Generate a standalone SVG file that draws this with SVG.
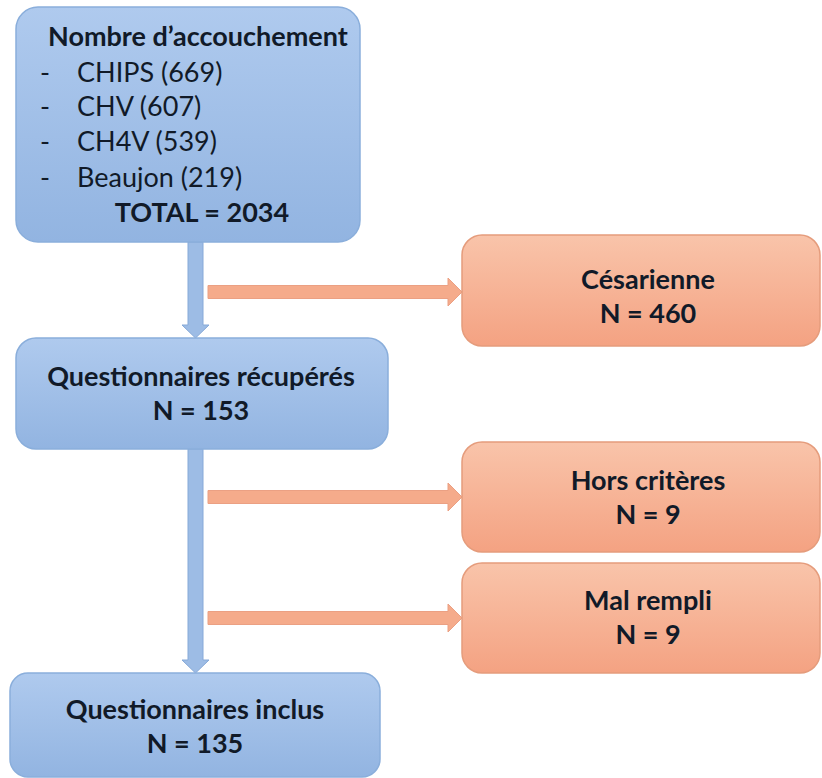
<svg xmlns="http://www.w3.org/2000/svg" width="822" height="778" viewBox="0 0 822 778">
<defs>
<linearGradient id="gBlue" x1="0" y1="0" x2="0" y2="1">
<stop offset="0" stop-color="#afcaee"/>
<stop offset="1" stop-color="#92b4e1"/>
</linearGradient>
<linearGradient id="gOrange" x1="0" y1="0" x2="0" y2="1">
<stop offset="0" stop-color="#f9c4aa"/>
<stop offset="1" stop-color="#f4a282"/>
</linearGradient>
<style>
.bbox{fill:url(#gBlue);stroke:#8aaedb;stroke-width:1.5}
.obox{fill:url(#gOrange);stroke:#e59c7c;stroke-width:1.5}
.barrow{fill:#9dbce5;stroke:#86a9d8;stroke-width:1}
.oarrow{fill:#f5ab8b;stroke:#eba083;stroke-width:1}
text{font-family:Lato,"Open Sans","Liberation Sans",sans-serif;font-size:27px;fill:#111a28}
.b{font-weight:bold}
.c{text-anchor:middle}
</style>
</defs>
<rect width="822" height="778" fill="#ffffff"/>
<g id="connectors">
<path class="barrow" d="M188,242 V325 H182 L195.5,338 L209,325 H203 V242 Z"/>
<path class="barrow" d="M188,449 V660 H182 L195.5,673 L209,660 H203 V449 Z"/>
<path class="oarrow" d="M208,285.5 H448 V278 L462,292 L448,306 V298.5 H208 Z"/>
<path class="oarrow" d="M208,490.5 H448 V483 L462,497 L448,511 V503.5 H208 Z"/>
<path class="oarrow" d="M208,611.5 H448 V604 L462,618 L448,632 V624.5 H208 Z"/>
</g>
<g id="node-accouchement">
<rect class="bbox" x="16" y="7" width="344" height="235" rx="22"/>
<text class="b" x="48" y="46">Nombre d’accouchement</text>
<text x="40" y="82">-</text><text x="77" y="82">CHIPS (669)</text>
<text x="40" y="116">-</text><text x="77" y="116">CHV (607)</text>
<text x="40" y="151">-</text><text x="77" y="151">CH4V (539)</text>
<text x="40" y="187">-</text><text x="77" y="187">Beaujon (219)</text>
<text class="b c" x="202" y="222">TOTAL = 2034</text>
</g>
<g id="node-recuperes">
<rect class="bbox" x="16" y="338" width="372" height="111" rx="20"/>
<text class="b c" x="201" y="386">Questionnaires récupérés</text>
<text class="b c" x="201" y="420">N = 153</text>
</g>
<g id="node-inclus">
<rect class="bbox" x="10" y="673" width="370" height="104" rx="18"/>
<text class="b c" x="195" y="719">Questionnaires inclus</text>
<text class="b c" x="195" y="753">N = 135</text>
</g>
<g id="node-cesarienne">
<rect class="obox" x="462" y="235" width="358" height="111" rx="20"/>
<text class="b c" x="648" y="289">Césarienne</text>
<text class="b c" x="648" y="323">N = 460</text>
</g>
<g id="node-hors-criteres">
<rect class="obox" x="462" y="442" width="358" height="110" rx="20"/>
<text class="b c" x="648" y="490">Hors critères</text>
<text class="b c" x="648" y="524">N = 9</text>
</g>
<g id="node-mal-rempli">
<rect class="obox" x="462" y="563" width="358" height="110" rx="20"/>
<text class="b c" x="648" y="610">Mal rempli</text>
<text class="b c" x="648" y="644">N = 9</text>
</g>
</svg>
